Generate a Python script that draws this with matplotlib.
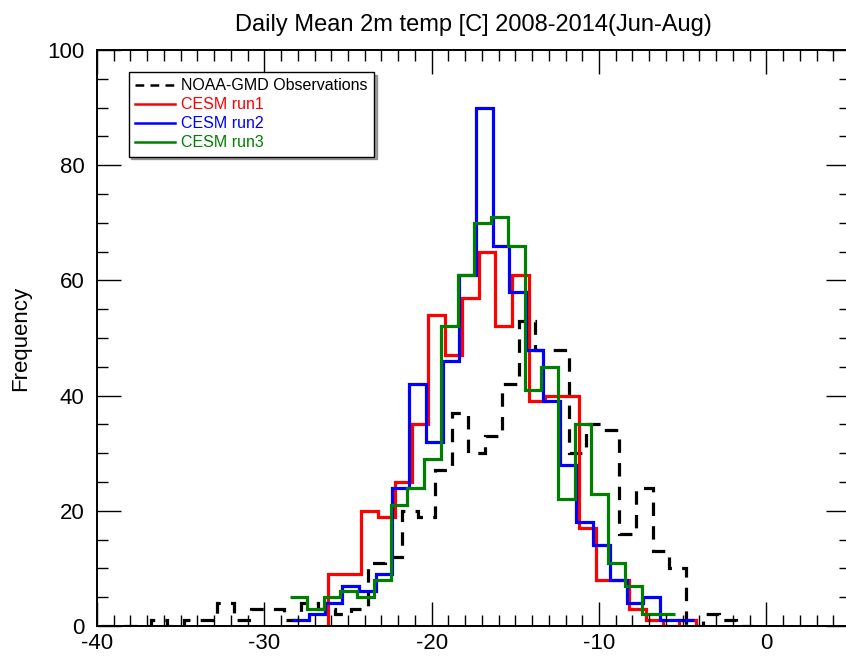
import numpy as np
import matplotlib
matplotlib.use("Agg")
import matplotlib.pyplot as plt
from matplotlib.lines import Line2D
from matplotlib.ticker import MultipleLocator

plt.rcParams["font.family"] = ["Liberation Sans", "DejaVu Sans"]
plt.rcParams["axes.unicode_minus"] = False

# 1 C bins, each series starts at its own first edge
bin_width = 1.0

obs_start = -39.8
obs_counts = [0, 0, 0, 1, 0, 1, 1, 4, 1, 3, 3, 1, 4, 3, 2, 3,
              11, 12, 20, 19, 27, 37, 30, 33, 42, 53, 48, 48, 30, 35,
              34, 16, 24, 13, 10, 0, 2, 1, 0]

run1_start = -26.2
run1_counts = [9, 9, 20, 19, 25, 35, 54, 47, 57, 65, 52, 61, 39, 40,
               40, 17, 8, 8, 3, 1, 0, 1]

run2_start = -28.35
run2_counts = [1, 2, 4, 7, 6, 9, 24, 42, 32, 46, 61, 90, 66, 58, 48,
               39, 28, 18, 14, 8, 4, 5, 1, 1]

run3_start = -28.45
run3_counts = [5, 3, 5, 6, 5, 8, 21, 24, 29, 52, 61, 70, 71, 66, 41,
               45, 22, 35, 23, 11, 7, 2, 2]

labels = ["NOAA-GMD Observations", "CESM run1", "CESM run2", "CESM run3"]
colors = ["black", "red", "blue", "green"]
title = "Daily Mean 2m temp [C] 2008-2014(Jun-Aug)"


def bin_edges(start, counts):
    return start + bin_width * np.arange(len(counts) + 1)


fig = plt.figure(figsize=(8.46, 6.56), dpi=100)
ax = fig.add_axes([97 / 846, 30 / 656, 753 / 846, 576 / 656])

lw = 2.3
dash = (0, (4.2, 3.2))

ax.stairs(obs_counts, bin_edges(obs_start, obs_counts), baseline=None,
          color=colors[0], lw=lw, linestyle=dash)
ax.stairs(run1_counts, bin_edges(run1_start, run1_counts), baseline=0,
          color=colors[1], lw=lw)
ax.stairs(run2_counts, bin_edges(run2_start, run2_counts), baseline=None,
          color=colors[2], lw=lw)
ax.stairs(run3_counts, bin_edges(run3_start, run3_counts), baseline=None,
          color=colors[3], lw=lw)

ax.set_xlim(-40, 5)
ax.set_ylim(0, 100)
ax.xaxis.set_major_locator(MultipleLocator(10))
ax.xaxis.set_minor_locator(MultipleLocator(1))
ax.yaxis.set_major_locator(MultipleLocator(20))
ax.yaxis.set_minor_locator(MultipleLocator(5))
ax.tick_params(which="both", direction="in", top=True, right=True,
               labelsize=16, width=1.0)
ax.tick_params(which="major", length=17)
ax.tick_params(which="minor", length=8)
ax.tick_params(axis="x", pad=5)
ax.tick_params(axis="y", pad=9)
for sp in ax.spines.values():
    sp.set_linewidth(1.4)

ax.set_ylabel("Frequency", fontsize=16)
ax.yaxis.set_label_coords(-0.087, 0.5)
ax.set_title(title, fontsize=17, pad=14)

handles = [Line2D([], [], color=colors[0], lw=1.8, linestyle=(0, (3.5, 2.5)))]
handles += [Line2D([], [], color=c, lw=1.8) for c in colors[1:]]
leg = ax.legend(handles, labels, loc="upper left",
                bbox_to_anchor=(0.042, 0.962), fontsize=11.5,
                frameon=True, fancybox=False, shadow=True, framealpha=1,
                edgecolor="black", handlelength=2.5, handletextpad=0.4,
                labelspacing=0.25, borderpad=0.4, borderaxespad=0)
leg.get_frame().set_linewidth(1.0)
for txt, c in zip(leg.get_texts(), colors):
    txt.set_color(c)

fig.savefig("out.png", dpi=100)
